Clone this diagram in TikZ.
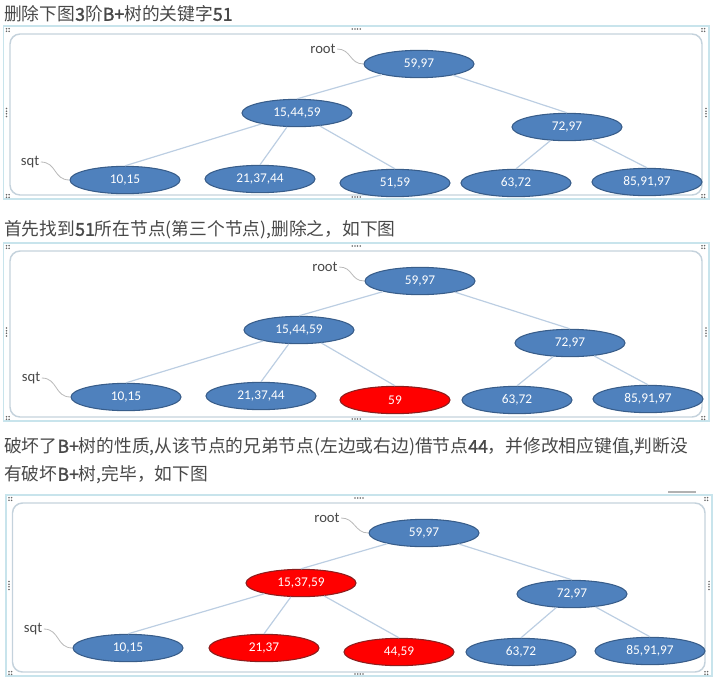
\documentclass[tikz,border=0pt]{standalone}
\usepackage{fontspec}
\setmainfont{Carlito}
\newfontfamily\cjk[AutoFakeBold=1.6]{Noto Sans CJK SC}
\usetikzlibrary{shapes.geometric}

\definecolor{keyblue}{RGB}{79,129,189}
\definecolor{keyedge}{RGB}{56,93,138}
\definecolor{hotred}{RGB}{255,0,0}
\definecolor{hotedge}{RGB}{140,30,30}
\definecolor{linkcol}{RGB}{188,206,226}
\definecolor{framecyan}{RGB}{200,228,236}
\definecolor{framein}{RGB}{196,210,220}
\definecolor{textgray}{RGB}{72,72,72}

\begin{document}
\begin{tikzpicture}[x=0.75pt, y=-0.75pt,
  keynode/.style={ellipse, draw=keyedge, fill=keyblue, line width=0.8pt,
    minimum width=82.5pt, minimum height=20.5pt, inner sep=0pt, text=white,
    font=\fontsize{10}{12}\selectfont},
  keyhot/.style={keynode, fill=hotred, draw=hotedge},
  treelink/.style={draw=linkcol, line width=0.9pt},
  ptrlabel/.style={text=textgray, inner sep=1pt, font=\fontsize{11}{13}\selectfont},
  ptrtail/.style={draw=gray!55, line width=0.6pt},
  heading/.style={anchor=west, text=textgray, inner sep=0pt,
    font=\cjk\fontsize{13.3}{16}\selectfont}]

\useasboundingbox (0,0) rectangle (721,682);

% --- Frames round the three pictures ---
\foreach \xa/\ya/\xb/\yb in {3.5/26/709/199, 3.5/243/709/421, 6/495/712/676} {
  \draw[framecyan, line width=1.4pt] (\xa,\ya) rectangle (\xb,\yb);
  \draw[framein, line width=1.1pt, rounded corners=7.5pt] (\xa+6.5,\ya+8) rectangle (\xb-7,\yb-4);
  % corner handles
  \foreach \cx/\cy in {\xa+3/\ya+4, \xb-7/\ya+4, \xa+3/\yb-3, \xb-7/\yb-3}
    \foreach \i/\j in {0/0, 2.6/0, 0/2.6, 2.6/2.6}
      \fill[gray!80!black] ({\cx+\i},{\cy+\j-1.3}) circle (0.65pt);
  % middle handles
  \foreach \k in {-1.5,-0.5,0.5,1.5} {
    \fill[gray!80!black] ({(\xa+\xb)/2+2.6*\k},{\ya+3}) circle (0.65pt);
    \fill[gray!80!black] ({(\xa+\xb)/2+2.6*\k},{\yb-2}) circle (0.65pt);
    \fill[gray!80!black] ({\xa+3},{(\ya+\yb)/2+2.6*\k}) circle (0.65pt);
    \fill[gray!80!black] ({\xb-3},{(\ya+\yb)/2+2.6*\k}) circle (0.65pt);
  }
}
\draw[gray!60, line width=0.8pt] (668,492) -- (696,492);

% --- Headings ---
\node[heading] (h1) at (4,14) {删除下图\textbf{3}阶\textbf{B+}树的关键字\textbf{51}};
\node[heading] (h2) at (4,230) {首先找到\textbf{51}所在节点(第三个节点),删除之，如下图};
\node[heading] (h3) at (4,447) {破坏了\textbf{B+}树的性质,从该节点的兄弟节点(左边或右边)借节点\textbf{44}，并修改相应键值,判断没};
\node[heading] (h4) at (4,475) {有破坏\textbf{B+}树,完毕，如下图};

% --- Picture 1: the tree before ---
\node[keynode] (top1)  at (419,64)  {59,97};
\node[keynode] (midL1) at (297,113) {15,44,59};
\node[keynode] (midR1) at (567,127) {72,97};
\node[keynode] (lf1a)  at (125,180) {10,15};
\node[keynode] (lf1b)  at (260,179) {21,37,44};
\node[keynode] (lf1c)  at (395,183) {51,59};
\node[keynode] (lf1d)  at (516,183) {63,72};
\node[keynode] (lf1e)  at (647,182) {85,91,97};
\draw[treelink] (top1) -- (midL1.north);
\draw[treelink] (top1) -- (midR1.north);
\draw[treelink] (midL1) -- (lf1a.north);
\draw[treelink] (midL1) -- (lf1b.north);
\draw[treelink] (midL1) -- (lf1c.north);
\draw[treelink] (midR1) -- (lf1d.north);
\draw[treelink] (midR1) -- (lf1e.north);
\node[ptrlabel] (root1) at (323,49) {root};
\node[ptrlabel] (sqt1)  at (30,162) {sqt};
\draw[ptrtail] (root1.east) .. controls +(14,0) and +(-14,0) .. (top1.west);
\draw[ptrtail] (sqt1.east) .. controls +(16,0) and +(-16,0) .. (lf1a.west);

% --- Picture 2: 51 deleted ---
\node[keynode] (top2)  at (420,281) {59,97};
\node[keynode] (midL2) at (299,330) {15,44,59};
\node[keynode] (midR2) at (570,343) {72,97};
\node[keynode] (lf2a)  at (126,397) {10,15};
\node[keynode] (lf2b)  at (261,396) {21,37,44};
\node[keyhot]  (lf2c)  at (395,400) {59};
\node[keynode] (lf2d)  at (517,400) {63,72};
\node[keynode] (lf2e)  at (648,399) {85,91,97};
\draw[treelink] (top2) -- (midL2.north);
\draw[treelink] (top2) -- (midR2.north);
\draw[treelink] (midL2) -- (lf2a.north);
\draw[treelink] (midL2) -- (lf2b.north);
\draw[treelink] (midL2) -- (lf2c.north);
\draw[treelink] (midR2) -- (lf2d.north);
\draw[treelink] (midR2) -- (lf2e.north);
\node[ptrlabel] (root2) at (325,267) {root};
\node[ptrlabel] (sqt2)  at (31,378) {sqt};
\draw[ptrtail] (root2.east) .. controls +(14,0) and +(-14,0) .. (top2.west);
\draw[ptrtail] (sqt2.east) .. controls +(16,0) and +(-16,0) .. (lf2a.west);

% --- Picture 3: 44 borrowed ---
\node[keynode] (top3)  at (424,533) {59,97};
\node[keyhot]  (midL3) at (301,583) {15,37,59};
\node[keynode] (midR3) at (572,594) {72,97};
\node[keynode] (lf3a)  at (128,648) {10,15};
\node[keyhot]  (lf3b)  at (264,648) {21,37};
\node[keyhot]  (lf3c)  at (399,652) {44,59};
\node[keynode] (lf3d)  at (521,652) {63,72};
\node[keynode] (lf3e)  at (650,651) {85,91,97};
\draw[treelink] (top3) -- (midL3.north);
\draw[treelink] (top3) -- (midR3.north);
\draw[treelink] (midL3) -- (lf3a.north);
\draw[treelink] (midL3) -- (lf3b.north);
\draw[treelink] (midL3) -- (lf3c.north);
\draw[treelink] (midR3) -- (lf3d.north);
\draw[treelink] (midR3) -- (lf3e.north);
\node[ptrlabel] (root3) at (327,518) {root};
\node[ptrlabel] (sqt3)  at (33,629) {sqt};
\draw[ptrtail] (root3.east) .. controls +(14,0) and +(-14,0) .. (top3.west);
\draw[ptrtail] (sqt3.east) .. controls +(16,0) and +(-16,0) .. (lf3a.west);

\end{tikzpicture}
\end{document}
